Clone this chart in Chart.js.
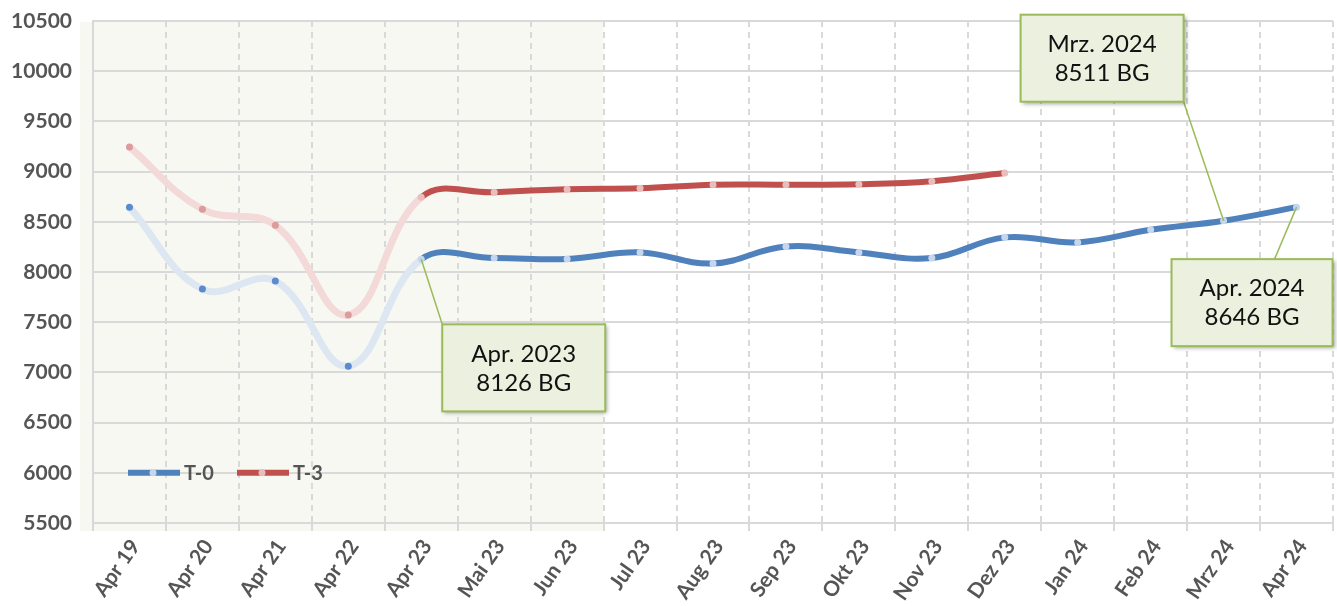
<!DOCTYPE html>
<html>
<head>
<meta charset="utf-8">
<script src="https://cdn.jsdelivr.net/npm/chart.js@4/dist/chart.umd.min.js"></script>
<style>
  html, body { margin: 0; padding: 0; background: #fff; }
  #wrap { width: 1337px; height: 606px; }
</style>
</head>
<body>
<div id="wrap"><canvas id="myLineChart"></canvas></div>
<script>
// Daten
var monate = ['Apr 19', 'Apr 20', 'Apr 21', 'Apr 22', 'Apr 23', 'Mai 23', 'Jun 23', 'Jul 23', 'Aug 23',
  'Sep 23', 'Okt 23', 'Nov 23', 'Dez 23', 'Jan 24', 'Feb 24', 'Mrz 24', 'Apr 24'];
var t0 = [8646, 7830, 7910, 7062, 8126, 8140, 8130, 8195, 8085, 8255, 8195, 8140, 8345, 8295, 8420, 8511, 8646];
var t3 = [9245, 8625, 8465, 7572, 8745, 8795, 8825, 8835, 8870, 8870, 8875, 8905, 8985, null, null, null, null];
var yTicks = [5500, 6000, 6500, 7000, 7500, 8000, 8500, 9000, 9500, 10000, 10500];
var hinweisIndex = [4, 15, 16];
var hinweisText = [['Apr. 2023', '8126 BG'], ['Mrz. 2024', '8511 BG'], ['Apr. 2024', '8646 BG']];

var FONT = 'Lato, "Open Sans", sans-serif';
var GRAU = '#555555';
var punktFarben = ['#c6d6ec', '#e8bdbc'];

// Boxen der Hinweise: Versatz zum Punkt (links, oben) und Ankerpunkt der Linie am Kasten
var boxLayout = [
  { dx: 21, dy: 65, w: 163, h: 87, ax: 0, ay: 0 },
  { dx: -203, dy: -206, w: 163, h: 87, ax: 163, ay: 87 },
  { dx: -125, dy: 52, w: 161, h: 87, ax: 103, ay: 0 }
];

// Hintergrund-Fläche (Jahreswerte bis Jun 23)
var flaeche = {
  id: 'flaeche',
  beforeDraw: function (chart) {
    var c = chart.ctx, a = chart.chartArea, x = chart.scales.x;
    var rechts = (x.getPixelForValue(6) + x.getPixelForValue(7)) / 2;
    c.save();
    c.fillStyle = '#f8f8f3';
    c.fillRect(a.left - 13, a.top + 1, rechts - a.left + 13, a.bottom - a.top + 7);
    c.restore();
  }
};

// Legende im Diagramm
var legende = {
  id: 'legende',
  afterDraw: function (chart) {
    var c = chart.ctx;
    var y = chart.scales.y.getPixelForValue(6000);
    var xs = [128, 237];
    c.save();
    chart.data.datasets.forEach(function (ds, i) {
      var x = xs[i];
      c.strokeStyle = ds.borderColor;
      c.lineWidth = 6;
      c.beginPath(); c.moveTo(x, y); c.lineTo(x + 52, y); c.stroke();
      c.fillStyle = punktFarben[i];
      c.beginPath(); c.arc(x + 25, y, 3.5, 0, Math.PI * 2); c.fill();
      c.fillStyle = GRAU;
      c.font = 'bold 20px ' + FONT;
      c.textBaseline = 'middle';
      c.fillText(ds.label, x + 56, y + 1);
    });
    c.restore();
  }
};

// Hinweiskästen
var hinweise = {
  id: 'hinweise',
  afterDatasetsDraw: function (chart) {
    var c = chart.ctx, xs = chart.scales.x, ys = chart.scales.y;
    c.save();
    hinweisIndex.forEach(function (idx, i) {
      var px = xs.getPixelForValue(idx), py = ys.getPixelForValue(t0[idx]);
      var b = boxLayout[i];
      var bx = px + b.dx, by = py + b.dy;
      c.strokeStyle = '#9bbb59';
      c.lineWidth = 1.5;
      c.beginPath(); c.moveTo(px, py); c.lineTo(bx + b.ax, by + b.ay); c.stroke();
      c.shadowColor = 'rgba(0,0,0,0.35)';
      c.shadowBlur = 4; c.shadowOffsetX = 2; c.shadowOffsetY = 2;
      c.fillStyle = '#ebf1de';
      c.fillRect(bx, by, b.w, b.h);
      c.shadowColor = 'transparent';
      c.lineWidth = 2;
      c.strokeRect(bx, by, b.w, b.h);
      c.fillStyle = '#111';
      c.font = '24px ' + FONT;
      c.textAlign = 'center';
      c.textBaseline = 'middle';
      c.fillText(hinweisText[i][0], bx + b.w / 2, by + b.h / 2 - 14);
      c.fillText(hinweisText[i][1], bx + b.w / 2, by + b.h / 2 + 15);
    });
    c.restore();
  }
};

var ctx = document.getElementById('myLineChart').getContext('2d');
var myLineChart = new Chart(ctx, {
  type: 'line',
  data: {
    labels: monate,
    datasets: [
      {
        label: 'T-0',
        data: t0,
        borderColor: '#4f81bd',
        borderWidth: 6,
        pointRadius: 3.5,
        pointBorderWidth: 0,
        pointBackgroundColor: function (c) { return c.dataIndex < 4 ? '#5b8bcf' : punktFarben[0]; },
        tension: 0.4,
        segment: {
          borderColor: function (c) { return c.p0DataIndex < 4 ? '#dde7f2' : '#4f81bd'; },
          borderWidth: function (c) { return c.p0DataIndex < 4 ? 7 : 6; }
        },
        fill: false
      },
      {
        label: 'T-3',
        data: t3,
        borderColor: '#c0504d',
        borderWidth: 6,
        pointRadius: 3.5,
        pointBorderWidth: 0,
        pointBackgroundColor: function (c) { return c.dataIndex < 4 ? '#dc9c9b' : punktFarben[1]; },
        tension: 0.4,
        segment: {
          borderColor: function (c) { return c.p0DataIndex < 4 ? '#f3d9d8' : '#c0504d'; },
          borderWidth: function (c) { return c.p0DataIndex < 4 ? 7 : 6; }
        },
        fill: false
      }
    ]
  },
  options: {
    responsive: true,
    maintainAspectRatio: false,
    animation: false,
    layout: { padding: { top: 21, right: 2, left: 0, bottom: 0 } },
    scales: {
      x: {
        offset: true,
        afterFit: function (s) { s.height = 83; s.paddingLeft = 0; s.paddingRight = 0; },
        grid: {
          offset: true,
          color: '#d9d9d9',
          lineWidth: 2,
          tickLength: 8,
          drawOnChartArea: true
        },
        border: { display: true, color: '#d9d9d9', width: 2, dash: [6, 5] },
        ticks: {
          color: GRAU,
          font: { family: FONT, size: 21, weight: 'bold' },
          maxRotation: 55,
          minRotation: 55,
          autoSkip: false,
          labelOffset: 6,
          padding: 4
        }
      },
      y: {
        min: 5500,
        max: 10500,
        afterFit: function (s) { s.width = 93; s.paddingTop = 0; s.paddingBottom = 0; },
        afterBuildTicks: function (s) { s.ticks = yTicks.map(function (v) { return { value: v }; }); },
        grid: { color: '#d9d9d9', lineWidth: 2, drawTicks: false },
        border: { display: true, color: '#d9d9d9', width: 2 },
        ticks: {
          color: GRAU,
          font: { family: FONT, size: 21, weight: 'bold' },
          padding: 21,
          callback: function (v) { return String(v); }
        }
      }
    },
    plugins: {
      legend: { display: false },
      tooltip: { enabled: false }
    }
  },
  plugins: [flaeche, legende, hinweise]
});
</script>
</body>
</html>
